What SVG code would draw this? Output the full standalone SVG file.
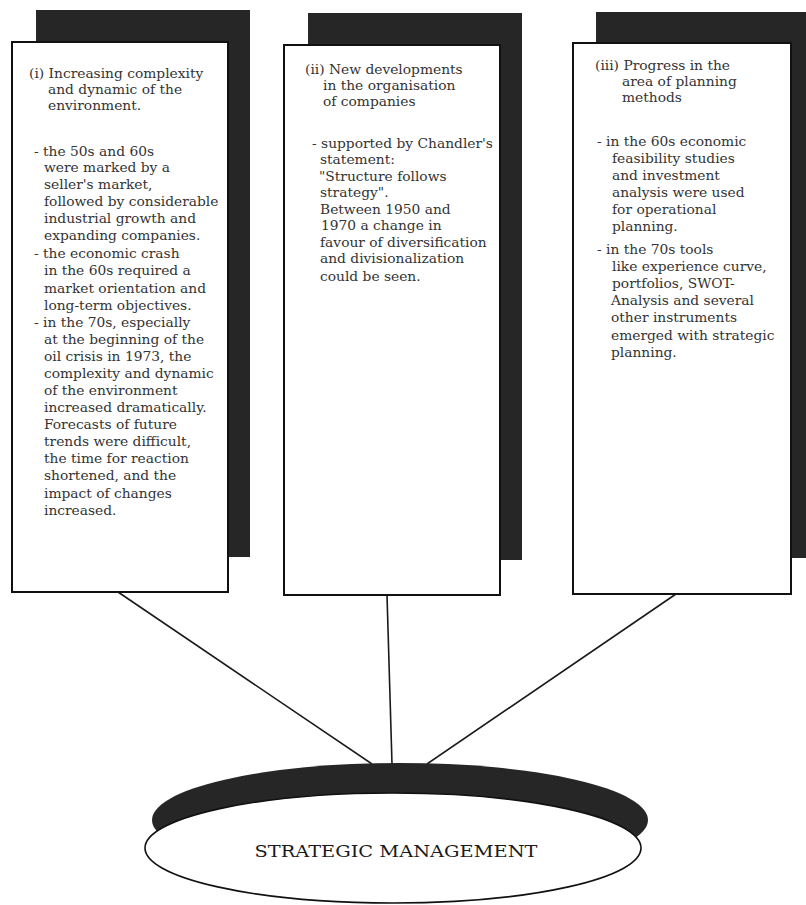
<svg xmlns="http://www.w3.org/2000/svg" width="806" height="905" viewBox="0 0 806 905">
  <style>
    .shadow { fill: #262626; }
    .card { fill: #ffffff; stroke: #111; stroke-width: 2; }
    .txt { font-family: "DejaVu Serif", "Liberation Serif", serif; font-size: 13.8px; fill: #333; }
    .link { stroke: #1a1a1a; stroke-width: 1.6; fill: none; }
    .title { font-family: "DejaVu Serif", "Liberation Serif", serif; font-size: 17px; fill: #1a1a1a; }
  </style>
  <rect width="806" height="905" fill="#ffffff"/>

  <!-- connectors from the three cards to the ellipse -->
  <g id="connectors">
    <line class="link" x1="118" y1="592" x2="372" y2="764"/>
    <line class="link" x1="387" y1="595" x2="392" y2="764"/>
    <line class="link" x1="676" y1="594" x2="427" y2="764"/>
  </g>

  <!-- card (i) -->
  <g id="card-environment">
    <rect class="shadow" x="36" y="10" width="214" height="547"/>
    <rect class="card" x="12" y="42" width="216" height="550"/>
    <text class="txt">
      <tspan x="29" y="78">(i) Increasing complexity</tspan>
      <tspan x="48" y="94">and dynamic of the</tspan>
      <tspan x="48" y="110">environment.</tspan>
      <tspan x="34" y="156">- the 50s and 60s</tspan>
      <tspan x="44" y="172">were marked by a</tspan>
      <tspan x="44" y="189">seller's market,</tspan>
      <tspan x="44" y="206">followed by considerable</tspan>
      <tspan x="44" y="223">industrial growth and</tspan>
      <tspan x="44" y="240">expanding companies.</tspan>
      <tspan x="34" y="258">- the economic crash</tspan>
      <tspan x="44" y="275">in the 60s required a</tspan>
      <tspan x="44" y="293">market orientation and</tspan>
      <tspan x="44" y="310">long-term objectives.</tspan>
      <tspan x="34" y="327">- in the 70s, especially</tspan>
      <tspan x="44" y="344">at the beginning of the</tspan>
      <tspan x="44" y="361">oil crisis in 1973, the</tspan>
      <tspan x="44" y="378">complexity and dynamic</tspan>
      <tspan x="44" y="395">of the environment</tspan>
      <tspan x="44" y="412">increased dramatically.</tspan>
      <tspan x="44" y="429">Forecasts of future</tspan>
      <tspan x="44" y="446">trends were difficult,</tspan>
      <tspan x="44" y="463">the time for reaction</tspan>
      <tspan x="44" y="480">shortened, and the</tspan>
      <tspan x="44" y="498">impact of changes</tspan>
      <tspan x="44" y="515">increased.</tspan>
    </text>
  </g>

  <!-- card (ii) -->
  <g id="card-organisation">
    <rect class="shadow" x="308" y="13" width="214" height="547"/>
    <rect class="card" x="284" y="45" width="216" height="550"/>
    <text class="txt">
      <tspan x="305" y="74">(ii) New developments</tspan>
      <tspan x="323" y="90">in the organisation</tspan>
      <tspan x="323" y="106">of companies</tspan>
      <tspan x="312" y="148">- supported by Chandler's</tspan>
      <tspan x="320" y="164">statement:</tspan>
      <tspan x="319" y="181">"Structure follows</tspan>
      <tspan x="320" y="197">strategy".</tspan>
      <tspan x="320" y="214">Between 1950 and</tspan>
      <tspan x="321" y="230">1970 a change in</tspan>
      <tspan x="320" y="247">favour of diversification</tspan>
      <tspan x="320" y="263">and divisionalization</tspan>
      <tspan x="320" y="281">could be seen.</tspan>
    </text>
  </g>

  <!-- card (iii) -->
  <g id="card-planning">
    <rect class="shadow" x="596" y="12" width="212" height="546"/>
    <rect class="card" x="573" y="43" width="218" height="551"/>
    <text class="txt">
      <tspan x="595" y="70">(iii) Progress in the</tspan>
      <tspan x="622" y="86">area of planning</tspan>
      <tspan x="622" y="102">methods</tspan>
      <tspan x="597" y="146">- in the 60s economic</tspan>
      <tspan x="612" y="163">feasibility studies</tspan>
      <tspan x="612" y="180">and investment</tspan>
      <tspan x="612" y="197">analysis were used</tspan>
      <tspan x="612" y="214">for operational</tspan>
      <tspan x="612" y="231">planning.</tspan>
      <tspan x="597" y="254">- in the 70s tools</tspan>
      <tspan x="612" y="271">like experience curve,</tspan>
      <tspan x="612" y="288">portfolios, SWOT-</tspan>
      <tspan x="611" y="305">Analysis and several</tspan>
      <tspan x="611" y="322">other instruments</tspan>
      <tspan x="611" y="340">emerged with strategic</tspan>
      <tspan x="611" y="357">planning.</tspan>
    </text>
  </g>

  <!-- central ellipse -->
  <g id="strategic-management">
    <ellipse cx="400" cy="820" rx="248" ry="57" fill="#262626"/>
    <ellipse cx="393" cy="848" rx="248" ry="55" fill="#ffffff" stroke="#111" stroke-width="1.6"/>
    <text class="title" x="396" y="857" text-anchor="middle" textLength="283" lengthAdjust="spacingAndGlyphs">STRATEGIC MANAGEMENT</text>
  </g>
</svg>
